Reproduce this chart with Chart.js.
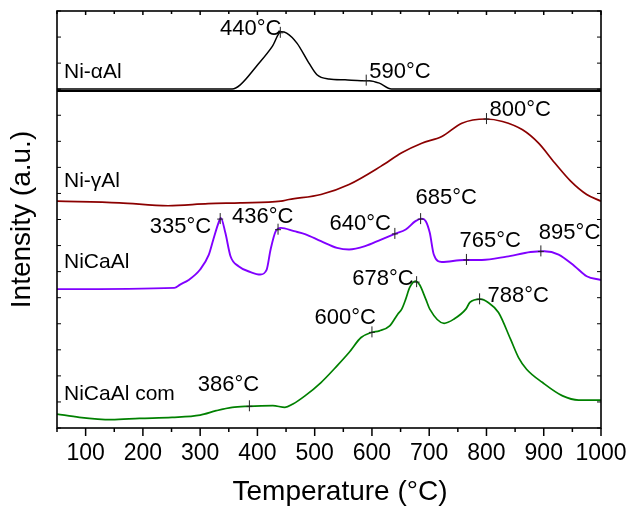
<!DOCTYPE html>
<html>
<head>
<meta charset="utf-8">
<script src="https://cdn.jsdelivr.net/npm/chart.js@4.4.1/dist/chart.umd.min.js"></script>
<style>
  html, body { margin: 0; padding: 0; background: #fff; }
</style>
</head>
<body>
<canvas id="tprChart" width="630" height="507"></canvas>
<script>
// H2-TPR profiles, intensity already stacked with an offset (a.u.)
const xTickLabels = [100, 200, 300, 400, 500, 600, 700, 800, 900, 1000];

const seriesNames = ['Ni-\u03b1Al', 'Ni-\u03b3Al', 'NiCaAl', 'NiCaAl com'];

const alphaTemp = [50, 356, 370, 398, 426, 441, 451, 469, 490, 504, 525, 553, 581, 595, 613, 634, 722, 1000];
const alphaInt = [81.3, 81.3, 82.3, 86.7, 91.5, 95.0, 94.7, 92.3, 87.5, 84.7, 83.7, 83.5, 83.3, 83.3, 82.7, 81.3, 81.3, 81.3];

const gammaTemp = [50, 159, 244, 314, 370, 441, 455, 511, 560, 616, 652, 687, 722, 757, 799, 828, 863, 891, 919, 947, 975, 1000];
const gammaInt = [54.4, 54.0, 53.3, 53.8, 54.0, 54.4, 54.8, 56.0, 58.4, 62.8, 66.0, 68.3, 69.9, 73.1, 74.1, 73.5, 71.5, 68.3, 63.6, 59.2, 56.0, 54.4];

const caalTemp = [50, 255, 265, 280, 300, 315, 323, 332, 336, 344, 353, 367, 388, 405, 416, 423, 432, 441, 464, 483, 511, 539, 560, 588, 616, 641, 659, 676, 687, 694, 701, 708, 722, 761, 792, 835, 877, 901, 926, 954, 975, 1000];
const caalInt = [33.3, 33.6, 34.4, 35.5, 38.0, 41.5, 45.2, 49.2, 50.4, 46.8, 41.2, 38.8, 37.4, 36.8, 37.9, 42.8, 47.2, 48.0, 47.2, 46.5, 44.8, 43.2, 42.8, 43.6, 45.2, 46.6, 47.6, 49.6, 50.2, 49.6, 46.8, 41.6, 39.8, 40.3, 40.3, 41.1, 42.2, 42.4, 41.6, 38.8, 36.4, 35.5];

const comTemp = [50, 89, 145, 194, 251, 300, 328, 356, 384, 427, 448, 462, 483, 511, 539, 560, 581, 599, 613, 631, 645, 652, 659, 666, 676, 683, 694, 701, 726, 743, 764, 771, 789, 803, 821, 842, 856, 870, 898, 933, 961, 1000];
const comInt = [3.35, 2.55, 2.0, 2.3, 2.55, 3.1, 4.15, 4.95, 5.2, 5.35, 4.95, 5.75, 7.7, 10.9, 14.9, 18.1, 21.7, 22.9, 23.3, 24.5, 27.3, 28.5, 30.9, 33.7, 35.2, 34.4, 30.9, 28.5, 25.1, 26.1, 28.5, 30.1, 30.9, 30.1, 27.7, 21.3, 16.9, 14.1, 10.9, 7.7, 6.7, 6.7];

// peak temperatures marked on each curve
const alphaPeaks = [440, 590];
const gammaPeaks = [800];
const caalPeaks = [335, 436, 640, 685, 765, 895];
const comPeaks = [386, 600, 678, 788];

const FONT = '"Liberation Sans", Arial, Helvetica, sans-serif';

function toPoints(temps, ints) {
    return temps.map((t, i) => ({ x: t, y: ints[i] }));
}

// intensity on a curve at temperature t (for placing the peak marks)
function valueAt(temps, ints, t) {
    for (let i = 1; i < temps.length; i++) {
        if (t <= temps[i]) {
            const f = (t - temps[i - 1]) / (temps[i] - temps[i - 1]);
            return ints[i - 1] + f * (ints[i] - ints[i - 1]);
        }
    }
    return ints[ints.length - 1];
}

const curves = [
    { temps: alphaTemp, ints: alphaInt, peaks: alphaPeaks, color: '#000000', width: 1.5 },
    { temps: gammaTemp, ints: gammaInt, peaks: gammaPeaks, color: '#8b0000', width: 1.7 },
    { temps: caalTemp, ints: caalInt, peaks: caalPeaks, color: '#8000ff', width: 1.9 },
    { temps: comTemp, ints: comInt, peaks: comPeaks, color: '#008000', width: 1.7 }
];

// text placement for each peak label: [align, dx, dy] in px from the mark
const peakLabelStyle = [
    [['right', 1, -4], ['left', 3, -9]],
    [['left', 3, -9]],
    [['right', -9, 8], ['left', -46, -13], ['right', -4, -10], ['left', -5, -21], ['left', -7, -19], ['left', -2, -18]],
    [['center', -21, -21], ['right', 4, -14], ['right', -3, -3], ['left', 8, -3]]
];
// vertical spot (axis units) of the sample names
const nameSpots = [85.3, 59.1, 39.7, 8.2];
const dividerAt = 80.8;

const decorPlugin = {
    id: 'decor',
    afterDraw(chart) {
        const ctx = chart.ctx;
        const area = chart.chartArea;
        const xs = chart.scales.x;
        const ys = chart.scales.y;
        ctx.save();
        ctx.strokeStyle = '#000';

        // ticks on x: major outward below, minor between; short inside at the top
        ctx.lineWidth = 1.5;
        xs.ticks.forEach(t => {
            const px = xs.getPixelForValue(t.value);
            const pm = xs.getPixelForValue(t.value - 50);
            ctx.beginPath();
            ctx.moveTo(px, area.bottom); ctx.lineTo(px, area.bottom + 8);
            ctx.moveTo(pm, area.bottom); ctx.lineTo(pm, area.bottom + 4);
            ctx.moveTo(px, area.top); ctx.lineTo(px, area.top + 4);
            ctx.moveTo(pm, area.top); ctx.lineTo(pm, area.top + 3);
            ctx.stroke();
        });
        // inside ticks on both y sides
        ctx.lineWidth = 1;
        ys.ticks.forEach(t => {
            const py = ys.getPixelForValue(t.value);
            ctx.beginPath();
            ctx.moveTo(area.left, py); ctx.lineTo(area.left + 4, py);
            ctx.moveTo(area.right, py); ctx.lineTo(area.right - 4, py);
            ctx.stroke();
        });

        // frame and the line under the top panel
        ctx.lineWidth = 1.6;
        ctx.strokeRect(area.left, area.top, area.right - area.left, area.bottom - area.top);
        const dy = ys.getPixelForValue(dividerAt);
        ctx.lineWidth = 2;
        ctx.beginPath();
        ctx.moveTo(area.left, dy); ctx.lineTo(area.right, dy);
        ctx.stroke();

        // sample names
        ctx.fillStyle = '#000';
        ctx.font = '21px ' + FONT;
        ctx.textBaseline = 'middle';
        ctx.textAlign = 'left';
        seriesNames.forEach((name, i) => {
            ctx.fillText(name, area.left + 7, ys.getPixelForValue(nameSpots[i]));
        });

        // peak marks and labels
        ctx.font = '22px ' + FONT;
        curves.forEach((c, ci) => {
            c.peaks.forEach((t, pi) => {
                const px = xs.getPixelForValue(t);
                const py = ys.getPixelForValue(valueAt(c.temps, c.ints, t));
                ctx.strokeStyle = '#222';
                ctx.lineWidth = 1;
                ctx.beginPath();
                ctx.moveTo(px, py - 6); ctx.lineTo(px, py + 5);
                ctx.moveTo(px - 3, py); ctx.lineTo(px + 3, py);
                ctx.stroke();
                const st = peakLabelStyle[ci][pi];
                ctx.textAlign = st[0];
                ctx.fillText(t + '\u00b0C', px + st[1], py + st[2]);
            });
        });

        // x axis title
        ctx.font = '28px ' + FONT;
        ctx.textAlign = 'center';
        ctx.fillText('Temperature (\u00b0C)', 340, 492);
        ctx.restore();
    }
};

const ctx = document.getElementById('tprChart').getContext('2d');
new Chart(ctx, {
    type: 'line',
    data: {
        datasets: curves.map((c, i) => ({
            label: seriesNames[i],
            data: toPoints(c.temps, c.ints),
            borderColor: c.color,
            borderWidth: c.width,
            pointRadius: 0,
            fill: false,
            cubicInterpolationMode: 'monotone'
        }))
    },
    options: {
        responsive: false,
        animation: false,
        layout: { padding: { top: 11, right: 29, left: 0, bottom: 0 } },
        plugins: {
            legend: { display: false },
            tooltip: { enabled: false }
        },
        scales: {
            x: {
                type: 'linear',
                min: 50,
                max: 1000,
                afterBuildTicks: scale => { scale.ticks = xTickLabels.map(v => ({ value: v })); },
                afterFit: scale => {
                    scale.height = 79;
                    scale.paddingLeft = 0;
                    scale.paddingRight = 0;
                },
                grid: { display: false, drawTicks: false },
                border: { display: false },
                ticks: {
                    autoSkip: false,
                    maxRotation: 0,
                    minRotation: 0,
                    padding: 12,
                    color: '#000',
                    font: { family: FONT, size: 23 },
                    callback: v => String(v)
                }
            },
            y: {
                type: 'linear',
                min: 0,
                max: 100,
                afterBuildTicks: scale => {
                    scale.ticks = Array.from({ length: 17 }, (_, i) => ({ value: i * 6.25 }));
                },
                afterFit: scale => { scale.width = 57; },
                grid: { display: false, drawTicks: false },
                border: { display: false },
                ticks: { display: false },
                title: {
                    display: true,
                    text: 'Intensity (a.u.)',
                    color: '#000',
                    font: { family: FONT, size: 28 },
                    padding: { top: 5, bottom: 0 }
                }
            }
        }
    },
    plugins: [decorPlugin]
});
</script>
</body>
</html>
